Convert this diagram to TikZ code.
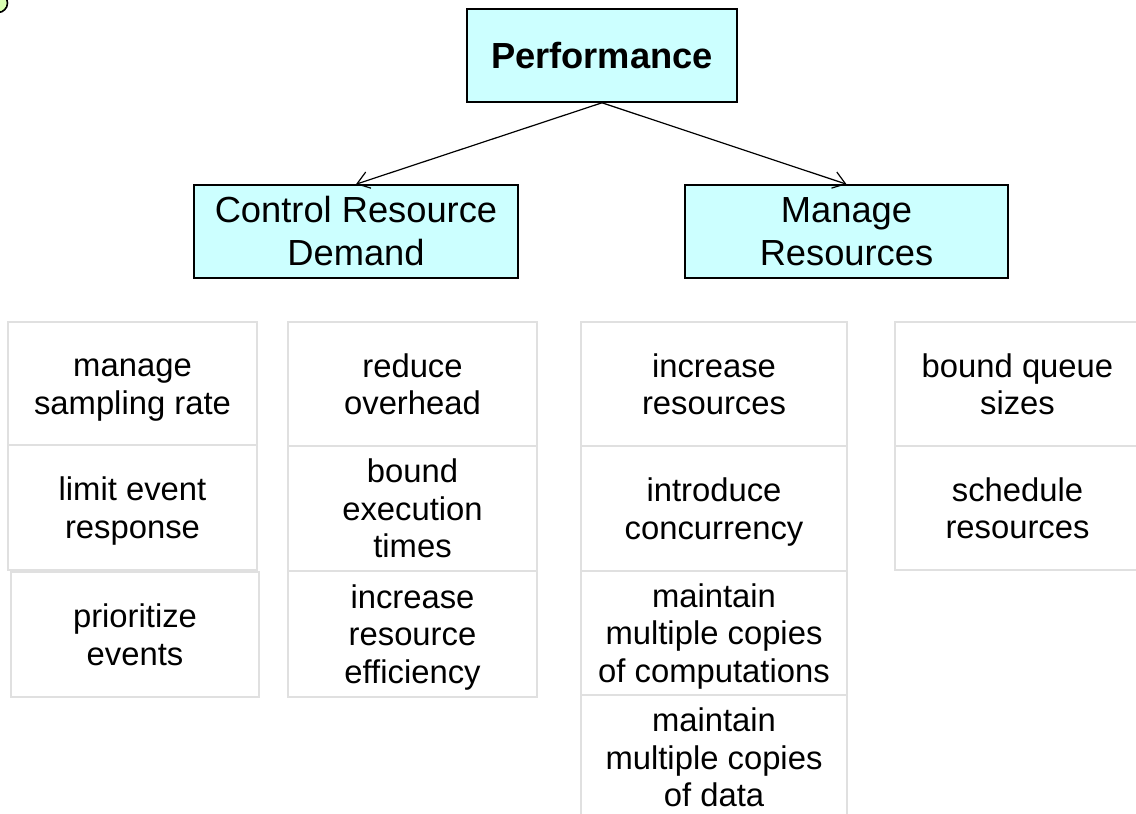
\documentclass[tikz,border=0pt]{standalone}
\usepackage{fontspec}
\setmainfont{Liberation Sans}
\usetikzlibrary{arrows.meta}
\definecolor{catfill}{HTML}{CCFFFF}
\definecolor{tacline}{HTML}{E0E0E0}

\begin{document}
\begin{tikzpicture}[x=1pt,y=-1pt,
  category/.style={draw=black,line width=1.6pt,fill=catfill,align=center,inner sep=0pt,minimum height=93pt,font=\fontsize{36.3}{43}\selectfont},
  tactic/.style={draw=tacline,line width=1.6pt,fill=white,align=center,inner sep=0pt,text height=61.5pt,text depth=0pt,font=\fontsize{32.8}{37.5}\selectfont},
  threeline/.style={text height=98pt},
  >={Straight Barb[length=12pt,width=17pt]}]
\clip (0,0) rectangle (1136,814);
\draw[fill=green!50!yellow!30,line width=1.6pt] (-2,3) circle (9.5);
\node[category,minimum width=270pt,font=\fontsize{36.3}{43}\selectfont\bfseries] (perf) at (602,55.5) {Performance};
\node[category,minimum width=324pt] (crd) at (356,231.5) {Control Resource\\Demand};
\node[category,minimum width=323pt] (mr) at (846.5,231.5) {Manage\\Resources};
\draw[->,line width=1.2pt] (perf.south) -- (crd.north);
\draw[->,line width=1.2pt] (perf.south) -- (mr.north);
\node[tactic,minimum width=249pt,minimum height=123pt] (sampling) at (132.5,383.5) {manage\\sampling rate};
\node[tactic,minimum width=249pt,minimum height=125pt] (limit) at (132.5,507.5) {limit event\\response};
\node[tactic,minimum width=248pt,minimum height=125pt] (prioritize) at (135,634.5) {prioritize\\events};
\node[tactic,minimum width=249pt,minimum height=124pt] (overhead) at (412.5,384) {reduce\\overhead};
\node[tactic,threeline,minimum width=249pt,minimum height=125pt] (exectime) at (412.5,508.5) {bound\\execution\\times};
\node[tactic,threeline,minimum width=249pt,minimum height=126pt] (efficiency) at (412.5,634) {increase\\resource\\efficiency};
\node[tactic,minimum width=266pt,minimum height=124pt] (increase) at (714,384) {increase\\resources};
\node[tactic,minimum width=266pt,minimum height=125pt] (concurrency) at (714,508.5) {introduce\\concurrency};
\node[tactic,threeline,minimum width=266pt,minimum height=124pt] (compcopies) at (714,633) {maintain\\multiple copies\\of computations};
\node[tactic,threeline,minimum width=266pt,minimum height=125pt] (datacopies) at (714,757.5) {maintain\\multiple copies\\of data};
\node[tactic,minimum width=245pt,minimum height=124pt] (queue) at (1017.5,384) {bound queue\\sizes};
\node[tactic,minimum width=245pt,minimum height=124pt] (schedule) at (1017.5,508) {schedule\\resources};
\end{tikzpicture}
\end{document}
